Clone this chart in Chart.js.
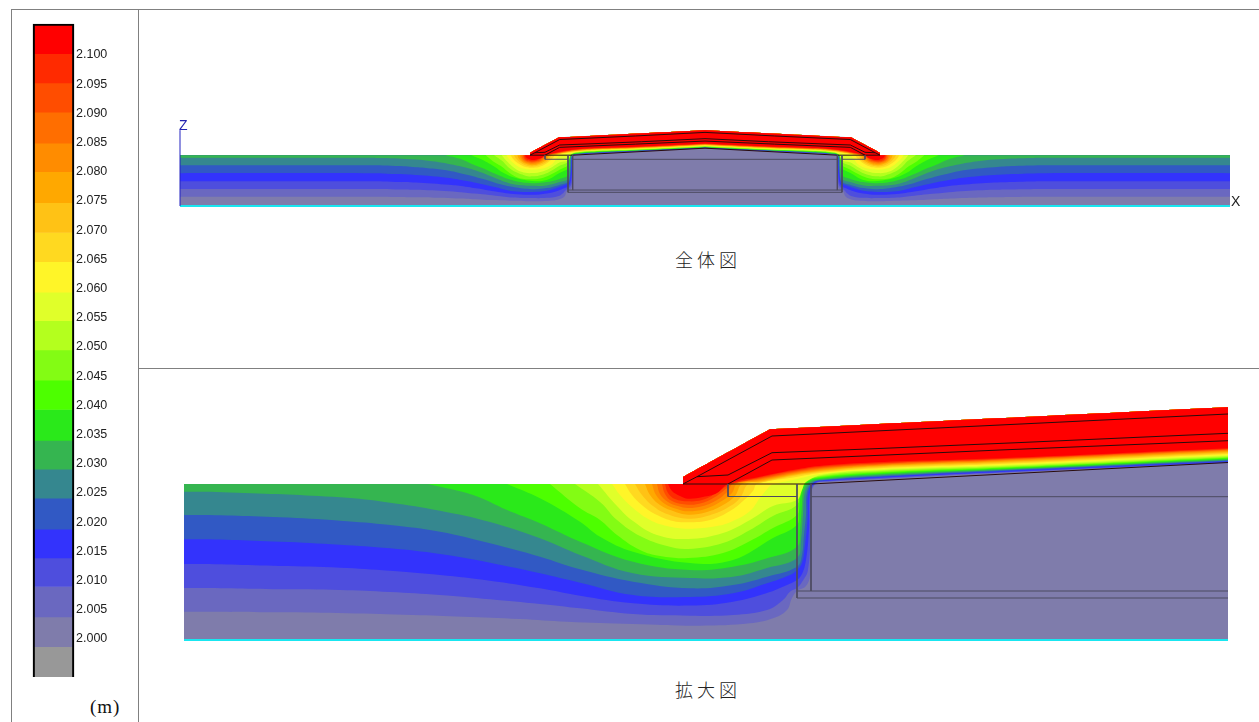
<!DOCTYPE html>
<html>
<head>
<meta charset="utf-8">
<script src="https://cdn.jsdelivr.net/npm/chart.js@4"></script>
<style>
    html, body { margin: 0; padding: 0; background: #fff; width: 1259px; height: 722px; overflow: hidden; }
    canvas { position: absolute; }
    .rule { position: absolute; background: #808080; }
    .label { position: absolute; white-space: nowrap; line-height: 1; }
    .caption { font-family: "Noto Sans CJK JP", sans-serif; font-size: 18px; letter-spacing: 4px; color: #222; font-weight: 300; }
</style>
</head>
<body>
<div class="rule" style="left:11px;top:9px;width:1px;height:713px"></div>
<div class="rule" style="left:138px;top:9px;width:1px;height:713px"></div>
<div class="rule" style="left:11px;top:9px;width:1248px;height:1px"></div>
<div class="rule" style="left:139px;top:368px;width:1120px;height:1px"></div>

<canvas id="legendBar" width="92" height="670" style="left:20px;top:15px"></canvas>
<canvas id="wholeView" width="1109" height="120" style="left:150px;top:100px"></canvas>
<canvas id="zoomView" width="1075" height="260" style="left:170px;top:390px"></canvas>

<div class="label" style="left:179px;top:117px;font:14px 'Liberation Sans';color:#2222b0">Z</div>
<div class="label" style="left:1231px;top:193px;font:14px 'Liberation Sans';color:#222">X</div>
<div class="label caption" style="left:675px;top:250px">全体図</div>
<div class="label caption" style="left:675px;top:680px">拡大図</div>
<div class="label" style="left:90px;top:696px;font:19px 'Liberation Serif';letter-spacing:1px;color:#111">(m)</div>

<script>
// Colour bar: band edges in metres
const bandEdges = [2.1053, 2.1002, 2.0952, 2.0902, 2.0849, 2.0800, 2.0747, 2.0696, 2.0646, 2.0594, 2.0545,
    2.0495, 2.0443, 2.0393, 2.0340, 2.0291, 2.0241, 2.0188, 2.0139, 2.0090, 2.0038, 1.9987, 1.9935];
const tickLabels = ['2.100', '2.095', '2.090', '2.085', '2.080', '2.075', '2.070', '2.065', '2.060', '2.055', '2.050',
    '2.045', '2.040', '2.035', '2.030', '2.025', '2.020', '2.015', '2.010', '2.005', '2.000'];
const bandColors = ['#ff0000', '#ff2a00', '#ff4d00', '#ff6e00', '#ff8c00', '#ffa800', '#ffc215', '#ffd920', '#fff528', '#e0ff2a', '#b4ff1e',
    '#83fc14', '#4dff00', '#2ae91a', '#35b550', '#35878f', '#3159c4', '#3333fc', '#4e4edd', '#6a68c0', '#7f7cab', '#989898'];

// Contours as [distance, height], from the enlarged view, lowest level first
const iso2004 = [[-551,28.3],[0,28.3],[96,27.7],[163,26.7],[229,25],[279,23.3],[336,21],[383,18.3],[449,16],[516,14.3],[566,16.7],[589,21.7],[603,30],[608,42],[613,49],[622,54],[626,65],[627,110],[627.5,148],[633,157],[640,158],[700,161],[816,167],[1044,177]];
const iso2009 = [[-551,52],[0,52],[96,50.7],[156,50],[206,48],[256,45],[306,40.7],[356,36],[396,31.7],[449,26],[506,24.3],[549,25],[583,30],[599,40],[606,48.3],[613,52],[618,58],[624,70],[626.5,110],[627,148],[632,157],[640,158.5],[700,161.8],[816,167.4],[1044,177.4]];
const iso2014 = [[-551,76],[0,76],[96,74],[156,72.3],[206,69.3],[256,65],[306,59.3],[356,51.7],[396,44.3],[449,36.7],[506,34.4],[549,38.3],[583,47],[603,55],[613,60],[618,66],[622,80],[625,110],[626,148],[631,157],[640,159],[700,162.5],[816,168],[1044,178]];
const iso2019 = [[-551,100.7],[0,100.7],[96,98.3],[156,95.3],[206,91.7],[256,86],[306,77.3],[356,66.7],[396,57.3],[449,45],[506,43],[549,46.7],[583,56.7],[606,65],[613,70],[618,77],[621,95],[623.5,120],[624.5,148],[630,157.5],[640,159.5],[700,163.3],[816,168.7],[1044,178.7]];
const iso2024 = [[-551,125],[0,125],[96,122.7],[156,119.3],[206,115],[256,108.3],[306,96.7],[356,83.3],[396,70.7],[449,58.3],[506,51.7],[549,55],[583,63.3],[613,73.3],[618,85],[620,105],[622,125],[623,148],[629,157.5],[640,160],[700,164],[816,169.5],[1044,179.5]];
const iso2029 = [[-551,148.3],[0,148.3],[53,147.3],[156,142.7],[206,137.3],[256,129.3],[306,118],[356,101.7],[396,85],[449,66.7],[506,62],[549,63.3],[583,72],[613,82],[617,100],[619,125],[621,148],[627,157.5],[640,160.5],[700,165],[816,170],[1044,180]];
const iso2034 = [[244,156],[289,145],[323,130],[356,116.7],[396,98.3],[449,78.3],[506,70],[549,73.3],[583,81.7],[613,93.3],[616,110],[618,135],[619.5,150],[625,158],[640,161.5],[700,166],[816,170.8],[1044,180.8]];
const iso2039 = [[323,156],[356,141.7],[396,118.3],[416,103.3],[449,88.3],[506,77],[549,80],[589,102],[613,115],[615,128],[617,145],[623,158],[640,162.5],[700,167],[816,171.5],[1044,181.5]];
const iso2044 = [[366,156],[396,131.7],[416,120],[433,105],[456,90],[476,84],[504,82],[539,87],[566,99],[589,112],[613,125],[614,137],[616,150],[622,159],[640,163.5],[700,168],[816,172.3],[1044,182.3]];
const iso2050 = [[391,156],[416,138],[433,120],[456,104],[483,94],[504,91],[539,97],[566,110],[589,124],[613,135],[614.5,147],[620,158],[640,164.5],[700,169],[816,173],[1044,183]];
const iso2055 = [[414,156],[433,134],[449,119],[473,105],[504,101],[539,107],[566,120],[589,134],[613,140],[618,150],[622,158],[640,165.5],[700,170],[816,174],[1044,184]];
const iso2059 = [[428,156],[436,145],[449,132],[466,120],[483,114],[504,111.3],[533,114],[549,119],[566,129],[576,142],[586,154],[590,156],[609,160],[640,166.5],[700,171],[816,175],[1044,185]];
const iso2065 = [[441,156],[448,145],[459,134],[473,125],[489,119],[504,117.7],[526,120],[546,129],[559,139],[569,149],[573,156],[609,162.5],[640,167.5],[700,172],[816,176],[1044,186]];
const iso2070 = [[451,156],[458,145],[469,134],[483,126],[504,121.3],[523,124],[543,132],[556,142],[564,156],[576,157.5],[609,164],[640,168.5],[700,173],[816,177],[1044,187]];
const iso2075 = [[461,156],[466,145],[476,135],[489,129],[504,125.3],[523,128],[539,135],[551,144],[558,156],[576,158.5],[609,165],[640,169.5],[700,174],[816,178],[1044,188]];
const iso2080 = [[468,156],[472,145],[481,136],[493,131],[504,128.7],[521,131],[536,138],[548,147],[553,156],[576,159.5],[609,166],[640,170.5],[700,174.8],[816,179],[1044,189]];
const iso2085 = [[473,156],[476,146],[484,138],[494,134],[504,132],[519,134],[533,140],[544,149],[549,156],[576,160.5],[609,167],[640,171.5],[700,175.5],[816,179.7],[1044,189.7]];
const iso2090 = [[478,156],[481,146],[488,139],[504,135.3],[518,137],[531,143],[543,152],[547,156],[576,161.5],[609,168],[640,172.5],[700,176.3],[816,180.4],[1044,190.4]];
const iso2095 = [[481,156],[484,147],[491,141],[504,138.7],[518,140],[529,145],[544,155],[546,156],[576,162.5],[609,169],[640,173.5],[700,177],[816,181],[1044,191]];
const iso2100 = [[484,156],[488,149],[496,144],[504,141.3],[519,143],[533,147],[544,156],[576,163.3],[609,170],[640,174.5],[700,178],[816,181.7],[1044,191.7]];

// Model outline and structure lines, same units
const roofOutline = [[1044,232.7],[586,210.7],[499,163],[499,156]];
const groundOutline = [[-551,0],[1044,0]];
const roofUpper = [[499,156],[513,163.3],[588,204],[816,215],[1044,226]];
const roofMiddle = [[513,163.3],[544,165],[588,187.3],[676,190.7],[833,197.3],[1044,206.7]];
const roofLower = [[544,156],[588,180],[816,190],[1044,199.3]];
const slabTop = [[499,156],[627,156],[1044,177.5]];
const footing = [[544,156],[544,143.5],[613,143.5]];
const outerWall = [[613,156],[613,42],[1044,42]];
const innerFloor = [[613,49],[1044,49]];
const innerWall = [[627,156],[627,49]];
const ceiling = [[627,143.3],[1044,143.3]];
const zAxisLine = [[-551,0],[-551,233]];

const isoLines = [iso2004, iso2009, iso2014, iso2019, iso2024, iso2029, iso2034, iso2039, iso2044, iso2050,
    iso2055, iso2059, iso2065, iso2070, iso2075, iso2080, iso2085, iso2090, iso2095, iso2100];
const structureLines = [roofUpper, roofMiddle, roofLower, slabTop, footing, outerWall, innerFloor, innerWall, ceiling];

// the whole view mirrors the half around the crown
const crownX = 1024;
const PLAIN = 0, LEFT_HALF = 1, RIGHT_HALF = -1;

function toPoints(pairs, side) {
    return pairs.map(p => {
        if (side === PLAIN) return { x: p[0], y: p[1] };
        const x = Math.min(p[0], crownX);
        return { x: side === LEFT_HALF ? x : 2 * crownX - x, y: p[1] };
    });
}

// repeated points keep the outline corners sharp when the curve is smoothed
function sharp(pairs) {
    return pairs.flatMap(p => [p, p, p]);
}

function area(pairs, color, side, smooth) {
    return {
        data: toPoints(pairs, side), showLine: true, fill: 'shape', tension: smooth,
        backgroundColor: color, borderColor: color, borderWidth: 0, pointRadius: 0
    };
}

function stroke(pairs, color, width, side) {
    return {
        data: toPoints(pairs, side), showLine: true, fill: false, tension: 0,
        borderColor: color, borderWidth: width, pointRadius: 0, clip: false
    };
}

function buildSection(sides, baseRange) {
    // painted lowest level first, Chart.js paints the last dataset first
    const sets = [];
    sides.forEach(s => sets.push(area(groundOutline.concat(roofOutline, [[-551,156]]), bandColors[20], s, 0)));
    isoLines.forEach((line, i) => {
        const closed = line.concat(sharp([line[line.length - 1]]), sharp(roofOutline), sharp([[line[0][0], 156], line[0]]));
        sides.forEach(s => sets.push(area(closed, bandColors[19 - i], s, 0.4)));
    });
    structureLines.forEach((line, i) => {
        const color = i < 4 ? '#2a0c0c' : '#4c4a60';
        sides.forEach(s => sets.push(stroke(line, color, 1, s)));
    });
    sets.push(stroke(baseRange, '#19e6f0', 2, PLAIN));
    return sets.reverse();
}

function sectionOptions(xMin, xMax, zMax, padding) {
    return {
        responsive: false, animation: false, devicePixelRatio: 1,
        layout: { padding: padding },
        plugins: { legend: { display: false }, tooltip: { enabled: false } },
        scales: {
            x: { type: 'linear', min: xMin, max: xMax, display: false },
            y: { type: 'linear', min: 0, max: zMax, display: false }
        }
    };
}

// Colour bar
const barSets = bandColors.map((c, i) => ({
    data: [[bandEdges[i + 1], bandEdges[i]]], backgroundColor: c, borderWidth: 0,
    grouped: false, barPercentage: 1, categoryPercentage: 1
}));
barSets.unshift({
    data: [[bandEdges[bandEdges.length - 1], bandEdges[0]]], backgroundColor: 'rgba(0,0,0,0)',
    borderColor: '#000', borderWidth: 1.5, grouped: false, barPercentage: 1, categoryPercentage: 1, clip: false
});

new Chart(document.getElementById('legendBar'), {
    type: 'bar',
    data: { labels: ['m'], datasets: barSets },
    options: {
        responsive: false, animation: false, devicePixelRatio: 1,
        layout: { padding: { left: 13, top: 9, bottom: 8, right: 0 } },
        plugins: { legend: { display: false }, tooltip: { enabled: false } },
        scales: {
            x: { display: false },
            y: {
                position: 'right', min: bandEdges[bandEdges.length - 1], max: bandEdges[0],
                grid: { display: false, drawTicks: false }, border: { display: false },
                // no label margin: the bar must fill the whole height
                afterFit: s => { s.width = 38; s.paddingTop = 0; s.paddingBottom = 0; },
                afterBuildTicks: s => { s.ticks = tickLabels.map(t => ({ value: +t })); },
                ticks: {
                    autoSkip: false, padding: 2, color: '#222',
                    font: { family: 'Liberation Sans', size: 12.5 },
                    callback: v => v.toFixed(3)
                }
            }
        }
    }
});

// Whole section, both halves
const wholeSets = buildSection([LEFT_HALF, RIGHT_HALF], [[-551,0],[2599,0]]);
wholeSets.unshift(stroke(zAxisLine, '#2222c0', 1, PLAIN));
new Chart(document.getElementById('wholeView'), {
    type: 'scatter',
    data: { datasets: wholeSets },
    options: sectionOptions(-551, 2599, 264, { left: 30, top: 20, right: 29, bottom: 14 })
});

// Enlarged left half
new Chart(document.getElementById('zoomView'), {
    type: 'scatter',
    data: { datasets: buildSection([PLAIN], [[0,0],[1044,0]]) },
    options: sectionOptions(0, 1045, 240, { left: 14, top: 10, right: 16, bottom: 10 })
});
</script>
</body>
</html>
